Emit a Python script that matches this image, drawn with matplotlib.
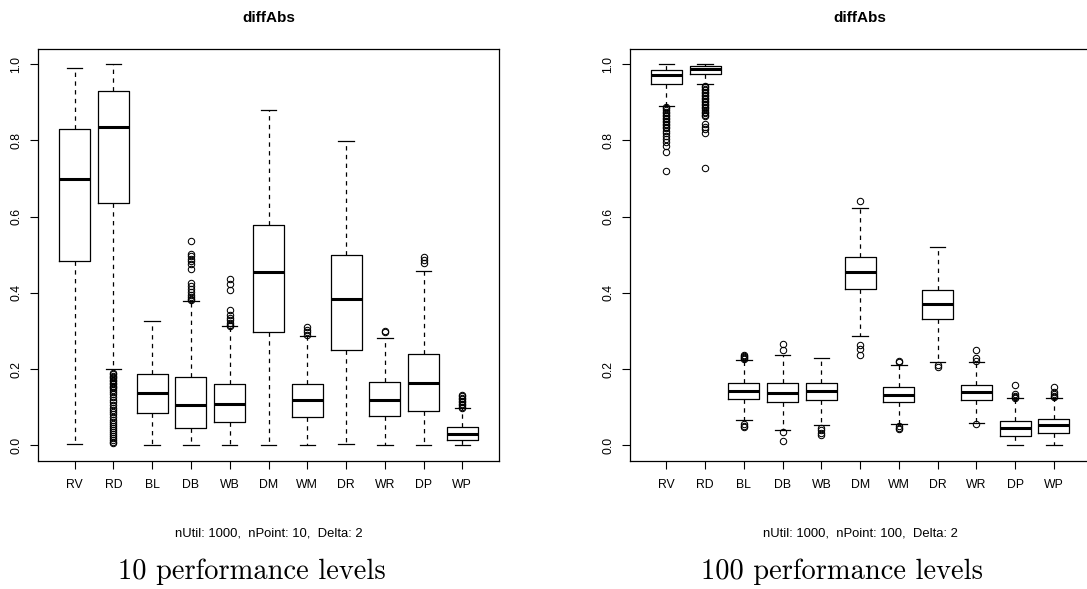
import matplotlib
matplotlib.use('Agg')
import matplotlib.pyplot as plt

categories = ['RV', 'RD', 'BL', 'DB', 'WB', 'DM', 'WM', 'DR', 'WR', 'DP', 'WP']
yticks = [0.0, 0.2, 0.4, 0.6, 0.8, 1.0]
ytick_labels = ['0.0', '0.2', '0.4', '0.6', '0.8', '1.0']

# ---- 10 performance levels ----
p10_whislo = [0.004, 0.2007, 0.0, 0.0, 0.0, 0.0, 0.0, 0.0026, 0.001, 0.001, 0.0]
p10_q1 = [0.484, 0.635, 0.0855, 0.0462, 0.061, 0.2976, 0.0742, 0.2504, 0.0768, 0.0907, 0.0148]
p10_med = [0.698, 0.836, 0.138, 0.1065, 0.109, 0.4555, 0.1204, 0.383, 0.1187, 0.165, 0.0297]
p10_q3 = [0.829, 0.930, 0.1876, 0.180, 0.1623, 0.577, 0.1606, 0.499, 0.1658, 0.239, 0.048]
p10_whishi = [0.9895, 1.0, 0.3255, 0.3787, 0.3124, 0.880, 0.287, 0.7976, 0.282, 0.457, 0.097]
p10_fliers = [
    [],
    [0.19, 0.187, 0.183, 0.18, 0.176, 0.172, 0.168, 0.165, 0.161, 0.157, 0.153, 0.15,
     0.145, 0.14, 0.135, 0.128, 0.12, 0.113, 0.105, 0.098, 0.092, 0.087, 0.082, 0.075,
     0.068, 0.062, 0.057, 0.05, 0.045, 0.04, 0.035, 0.03, 0.025, 0.02, 0.015, 0.01, 0.007],
    [],
    [0.5375, 0.503, 0.497, 0.49, 0.483, 0.475, 0.462, 0.425, 0.418, 0.41, 0.402, 0.395,
     0.39, 0.385, 0.381],
    [0.436, 0.423, 0.407, 0.356, 0.343, 0.335, 0.328, 0.322, 0.317, 0.314],
    [],
    [0.31, 0.303, 0.297, 0.291],
    [],
    [0.301, 0.298],
    [0.494, 0.486, 0.478],
    [0.133, 0.129, 0.125, 0.121, 0.117, 0.113, 0.109, 0.105, 0.101, 0.099],
]

# ---- 100 performance levels ----
p100_whislo = [0.891, 0.9476, 0.0663, 0.0393, 0.0532, 0.288, 0.0567, 0.22, 0.0593, 0.0, 0.0]
p100_q1 = [0.947, 0.9756, 0.1213, 0.1134, 0.1187, 0.41, 0.1143, 0.331, 0.1187, 0.0236, 0.0323]
p100_med = [0.972, 0.988, 0.142, 0.138, 0.142, 0.4538, 0.1335, 0.371, 0.1396, 0.0445, 0.0524]
p100_q3 = [0.984, 0.9956, 0.163, 0.163, 0.165, 0.4956, 0.1536, 0.4075, 0.1588, 0.0646, 0.0698]
p100_whishi = [1.0, 1.0, 0.2234, 0.2373, 0.2286, 0.623, 0.210, 0.521, 0.219, 0.124, 0.124]
p100_fliers = [
    [0.888, 0.884, 0.88, 0.876, 0.872, 0.868, 0.864, 0.86, 0.856, 0.852, 0.848, 0.844,
     0.84, 0.836, 0.832, 0.826, 0.82, 0.812, 0.805, 0.797, 0.785, 0.771, 0.719],
    [0.944, 0.94, 0.936, 0.932, 0.928, 0.924, 0.92, 0.916, 0.912, 0.908, 0.904, 0.9,
     0.896, 0.892, 0.888, 0.884, 0.88, 0.876, 0.872, 0.868, 0.863, 0.842, 0.836, 0.829,
     0.82, 0.727],
    [0.238, 0.235, 0.232, 0.229, 0.226, 0.055, 0.052, 0.049],
    [0.267, 0.2496, 0.034, 0.0105],
    [0.046, 0.04, 0.033, 0.027],
    [0.6405, 0.2627, 0.254, 0.237],
    [0.2225, 0.219, 0.051, 0.047, 0.043],
    [0.212, 0.206],
    [0.2504, 0.2295, 0.2225, 0.055],
    [0.159, 0.136, 0.131, 0.127, 0.124],
    [0.1536, 0.141, 0.136, 0.131, 0.126],
]

subtitles = ['nUtil: 1000,  nPoint: 10,  Delta: 2', 'nUtil: 1000,  nPoint: 100,  Delta: 2']
captions = ['10 performance levels', '100 performance levels']
title = 'diffAbs'

W, H = 1087, 589
fig = plt.figure(figsize=(W / 100, H / 100), dpi=100)

SANS = ['Liberation Sans', 'DejaVu Sans']


def make_stats(whislo, q1, med, q3, whishi, fliers):
    stats = []
    for i, lab in enumerate(categories):
        stats.append(dict(label=lab, whislo=whislo[i], q1=q1[i], med=med[i],
                          q3=q3[i], whishi=whishi[i], fliers=fliers[i]))
    return stats


panels = [
    (make_stats(p10_whislo, p10_q1, p10_med, p10_q3, p10_whishi, p10_fliers), 38.3),
    (make_stats(p100_whislo, p100_q1, p100_med, p100_q3, p100_whishi, p100_fliers), 630.0),
]

ax_w_px = 460.4
top_px, bot_px = 49.0, 460.7
for k, (stats, left_px) in enumerate(panels):
    ax = fig.add_axes([left_px / W, 1 - bot_px / H, ax_w_px / W, (bot_px - top_px) / H])
    ax.bxp(stats, positions=list(range(1, len(categories) + 1)), widths=0.8,
           capwidths=0.4, showfliers=True,
           boxprops=dict(color='black', linewidth=0.9),
           medianprops=dict(color='black', linewidth=2.2, solid_capstyle='butt'),
           whiskerprops=dict(color='black', linewidth=0.9, linestyle=(0, (3.5, 3.5))),
           capprops=dict(color='black', linewidth=0.9),
           flierprops=dict(marker='o', markerfacecolor='none', markeredgecolor='black',
                           markersize=4.6, markeredgewidth=0.75, linestyle='none'))
    ax.set_xlim(0.06, 11.94)
    ax.set_ylim(-0.04, 1.04)
    ax.set_yticks(yticks)
    ax.set_yticklabels(ytick_labels, rotation=90, va='center', family=SANS, fontsize=8.8)
    ax.set_xticks(list(range(1, len(categories) + 1)))
    ax.set_xticklabels(categories, family=SANS, fontsize=8.8)
    ax.tick_params(direction='out', length=5.5, width=0.8, color='black')
    ax.tick_params(axis='x', pad=7.5)
    ax.tick_params(axis='y', pad=6)
    for s in ax.spines.values():
        s.set_linewidth(0.9)
        s.set_color('black')
    cx = left_px + ax_w_px / 2
    fig.text(cx / W, 1 - 18 / H, title, ha='center', va='center', fontsize=11,
             fontweight='bold', family=SANS)
    fig.text(cx / W, 1 - 534 / H, subtitles[k], ha='center', va='center', fontsize=9.4,
             family=SANS)

fig.text(252 / W, 1 - 571.7 / H, captions[0], ha='center', va='center', fontsize=20.5,
         family='cmr10')
fig.text(841.7 / W, 1 - 571.7 / H, captions[1], ha='center', va='center', fontsize=20.5,
         family='cmr10')

fig.savefig('out.png', dpi=100)
